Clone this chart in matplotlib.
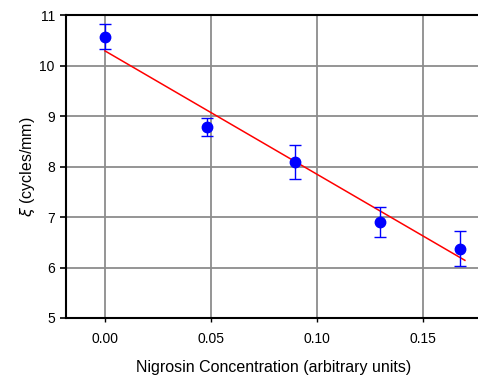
import matplotlib.pyplot as plt

plt.rcParams['font.family'] = ['Liberation Sans', 'DejaVu Sans']

# data
conc = [0.0, 0.048, 0.090, 0.130, 0.1675]
xi = [10.57, 8.78, 8.09, 6.90, 6.37]
xi_err = [0.25, 0.18, 0.33, 0.29, 0.35]

# fitted line
fit_intercept = 10.29
fit_slope = -24.4
fit_x = [0.0, 0.170]
fit_y = [fit_intercept + fit_slope * x for x in fit_x]

fig = plt.figure(figsize=(4.78, 3.77), dpi=100)
ax = fig.add_axes([0.138, 0.1565, 0.87, 0.8037])

ax.grid(True, color='#8c8c8c', linewidth=1.3)
ax.set_axisbelow(True)

ax.plot(fit_x, fit_y, color='red', linewidth=1.1, zorder=3)
ax.errorbar(conc, xi, yerr=xi_err, fmt='o', color='blue', ecolor='blue',
            markersize=7.5, elinewidth=1.0, capsize=4, capthick=1.0, zorder=4)

ax.set_xlim(-0.0184, 0.178)
ax.set_ylim(5, 11)
ax.set_xticks([0.0, 0.05, 0.10, 0.15])
ax.set_xticklabels(['0.00', '0.05', '0.10', '0.15'])
ax.set_yticks([5, 6, 7, 8, 9, 10, 11])

for s in ['left', 'bottom', 'top']:
    ax.spines[s].set_linewidth(1.5)
ax.spines['right'].set_visible(False)
ax.tick_params(axis='x', length=3, width=1.0, pad=7, labelsize=10)
ax.tick_params(axis='y', length=4, width=1.2, pad=4, labelsize=10)

ax.set_xlabel('Nigrosin Concentration (arbitrary units)', fontsize=11.5, labelpad=10)
ax.set_ylabel(r'$\xi$ (cycles/mm)', fontsize=11.5, labelpad=2)

fig.savefig('out.png', dpi=100)
